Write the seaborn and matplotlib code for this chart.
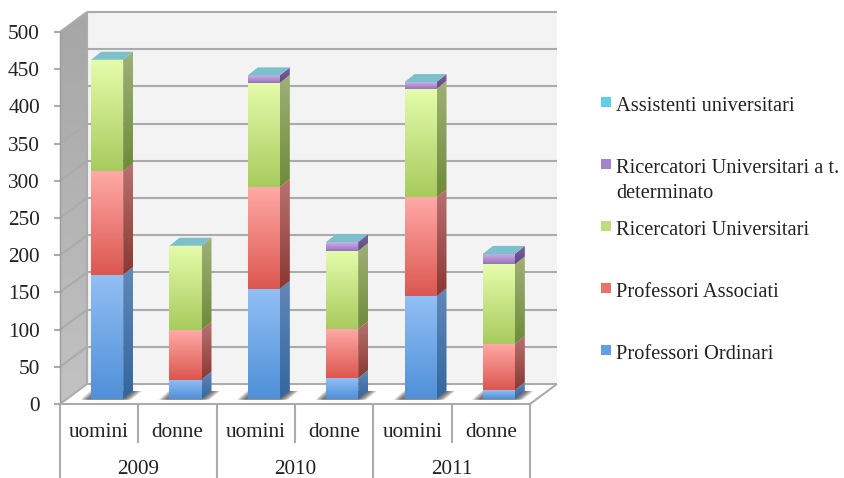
import numpy as np
import pandas as pd
import matplotlib
matplotlib.use("Agg")
import matplotlib.pyplot as plt
from matplotlib.patches import Polygon, Rectangle
from matplotlib.transforms import Affine2D, blended_transform_factory
import seaborn as sns

# Staff counts per year and gender
years = ["2009", "2010", "2011"]
genders = ["uomini", "donne"]
ordinari = [167, 26, 148, 28, 138, 12]
associati = [139, 67, 137, 66, 133, 62]
ricercatori = [150, 113, 140, 105, 146, 107]
ricercatori_td = [0, 0, 10, 12, 9, 14]
assistenti = [0, 0, 0, 0, 0, 0]

series_names = ["Professori Ordinari", "Professori Associati", "Ricercatori Universitari",
                "Ricercatori Universitari a t.\ndeterminato", "Assistenti universitari"]
series_values = [ordinari, associati, ricercatori, ricercatori_td, assistenti]

# Shading: front face top/bottom, side face top/bottom, legend swatch
front_top = ["#92BFF5", "#FFA9A6", "#E5FCAB", "#CBB1E6", "#8FE0F0"]
front_bot = ["#4F90D8", "#DC5750", "#A8CB5E", "#9672BF", "#4FB8D0"]
side_top = ["#6188B8", "#B87270", "#A0B078", "#7F63A0", "#5F9FB0"]
side_bot = ["#33669E", "#8A3833", "#6E8B3A", "#5F4485", "#3F8FA0"]
swatch = ["#619FE6", "#EC716C", "#BEDD7C", "#A484CC", "#5FCFE6"]
cap_color = "#7CC0CC"
grid_color = "#ABABAB"
text_color = "#222222"

W, H = 844, 478
sns.set_theme(style="white")
plt.rcParams["font.family"] = ["Liberation Serif", "DejaVu Serif"]
FS = 15.3
LEGEND_FS = 14.7

fig = plt.figure(figsize=(W / 100, H / 100), dpi=100, facecolor="white")
ax = fig.add_axes([60 / W, (H - 404) / H, 470 / W, 372 / H])
ax.set_facecolor("none")
px_x, px_y = 470 / 6, 372 / 500
depth_x, depth_y = 27 / px_x, 20 / px_y
bar_dx, bar_dy = 10 / px_x, 8 / px_y
bar_width = 32 / px_x
x_pos = np.arange(6)

ax.set_xlim(-0.5, 5.5)
ax.set_ylim(0, 500)
bar_tr = ax.transData + Affine2D().translate(8, 5)


def gradient(top, bot, extent, tr, clip=None, z=3):
    rgb = np.array([matplotlib.colors.to_rgb(top), matplotlib.colors.to_rgb(bot)])
    t = np.linspace(0, 1, 64)[:, None]
    img = (rgb[0] * (1 - t) + rgb[1] * t)[:, None, :]
    im = ax.imshow(img, extent=extent, origin="upper", aspect="auto", zorder=z,
                   interpolation="bilinear")
    im.set_transform(tr)
    im.set_clip_box(fig.bbox)
    if clip is not None:
        poly = Polygon(clip, closed=True, transform=tr, fill=False, edgecolor="none")
        im.set_clip_path(poly)
    return im


# Chart box: side wall, back wall and floor
x0, x1 = -0.5, 5.5
wall = [(x0, 0), (x0, 500), (x0 + depth_x, 500 + depth_y), (x0 + depth_x, depth_y)]
gradient("#A6A6A6", "#C2C2C2", (x0, x0 + depth_x, 0, 500 + depth_y), ax.transData, wall, z=0.5)
ax.add_patch(Polygon([(x0 + depth_x, depth_y), (x1 + depth_x, depth_y),
                      (x1 + depth_x, 500 + depth_y), (x0 + depth_x, 500 + depth_y)],
                     facecolor="#F3F3F3", edgecolor="none", zorder=0.4, clip_on=False))
ax.add_patch(Polygon([(x0, 0), (x1, 0), (x1 + depth_x, depth_y), (x0 + depth_x, depth_y)],
                     facecolor="white", edgecolor="none", zorder=0.6, clip_on=False))

ticks = np.arange(0, 501, 50)
line_kw = dict(color=grid_color, lw=1.5, clip_on=False, zorder=1, solid_capstyle="butt")
for v in ticks:
    ax.plot([x0 + depth_x, x1 + depth_x], [v + depth_y, v + depth_y], **line_kw)
    ax.plot([x0, x0 + depth_x], [v, v + depth_y], **line_kw)
ax.plot([x0 + depth_x, x0 + depth_x], [depth_y, 500 + depth_y], **line_kw)
ax.plot([x0, x0], [0, 500], color="#9A9A9A", lw=1, clip_on=False, zorder=1)
ax.plot([x1, x1 + depth_x], [0, depth_y], **line_kw)
ax.plot([x0, x1], [0, 0], **line_kw)

# Soft contact shadows on the floor
for x in x_pos:
    left, right = x - bar_width / 2, x + bar_width / 2
    for k in range(6):
        grow = (6 - k) * 1.3 / px_x
        ax.add_patch(Polygon([(left - grow - 3 / px_x, -1),
                              (right + grow, -1),
                              (right + bar_dx + grow + 1 / px_x, bar_dy),
                              (left + bar_dx - grow - 3 / px_x, bar_dy)],
                             facecolor="#202020", edgecolor="none", alpha=0.14,
                             transform=bar_tr, zorder=1.5, clip_on=False))

# Stacked front faces
bottoms = np.zeros(6)
for i, (name, vals) in enumerate(zip(series_names, series_values)):
    frame = pd.DataFrame({"pos": x_pos, "value": vals})
    before = len(ax.patches)
    sns.barplot(data=frame, x="pos", y="value", native_scale=True, width=bar_width,
                bottom=bottoms, color=swatch[i], saturation=1, errorbar=None,
                ax=ax, zorder=2, linewidth=0)
    for patch in ax.patches[before:]:
        patch.set_transform(bar_tr)
        patch.set_clip_on(False)
    for j, v in enumerate(vals):
        if v <= 0:
            continue
        left, right = x_pos[j] - bar_width / 2, x_pos[j] + bar_width / 2
        b, t = bottoms[j], bottoms[j] + v
        gradient(front_top[i], front_bot[i], (left, right, b, t), bar_tr, z=3)
        side = [(right, b), (right + bar_dx, b + bar_dy), (right + bar_dx, t + bar_dy), (right, t)]
        gradient(side_top[i], side_bot[i], (right, right + bar_dx, b, t + bar_dy), bar_tr, side, z=3)
    bottoms = bottoms + np.array(vals)

# Top caps of the stacks
for j, total in enumerate(bottoms):
    left, right = x_pos[j] - bar_width / 2, x_pos[j] + bar_width / 2
    ax.add_patch(Polygon([(left, total), (right, total),
                          (right + bar_dx, total + bar_dy), (left + bar_dx, total + bar_dy)],
                         facecolor=cap_color, edgecolor="none", transform=bar_tr,
                         zorder=4, clip_on=False))

ax.set_xlim(-0.5, 5.5)
ax.set_ylim(0, 500)
ax.set_xlabel("")
ax.set_ylabel("")
for s in ax.spines.values():
    s.set_visible(False)

# Axes: value ticks plus a two-level category axis
ax.set_yticks(ticks, [str(t) for t in ticks])
ax.tick_params(axis="y", length=4.5, width=1.5, color=grid_color, pad=10,
               labelsize=FS, labelcolor=text_color, left=True)
ax.set_xticks(x_pos, genders * 3)
ax.tick_params(axis="x", length=0, pad=14, labelsize=FS, labelcolor=text_color)

sep_tr = blended_transform_factory(ax.transData, fig.transFigure)
for k in range(7):
    bottom = 0.0 if k % 2 == 0 else (H - 443) / H
    ax.plot([x0 + k, x0 + k], [bottom, (H - 404) / H], color=grid_color, lw=1.5,
            transform=sep_tr, clip_on=False, zorder=1, solid_capstyle="butt")
for k, year in enumerate(years):
    ax.text(0.5 + 2 * k, (H - 469) / H, year, transform=sep_tr, ha="center", va="center",
            fontsize=FS, color=text_color)

# Legend, listed from the top of the stack down
legend_y = [102, 164, 226, 288, 350]
for y, name, col in zip(legend_y, series_names[::-1], swatch[::-1]):
    fig.patches.append(Rectangle((601 / W, (H - y - 5) / H), 10 / W, 10 / H,
                                 transform=fig.transFigure, facecolor=col, edgecolor="none"))
    for n, line in enumerate(name.split("\n")):
        fig.text(616 / W, (H - y - 9 - 25 * n) / H, line, ha="left", va="baseline",
                 fontsize=LEGEND_FS, color=text_color)

fig.savefig("out.png", dpi=100, facecolor="white")
